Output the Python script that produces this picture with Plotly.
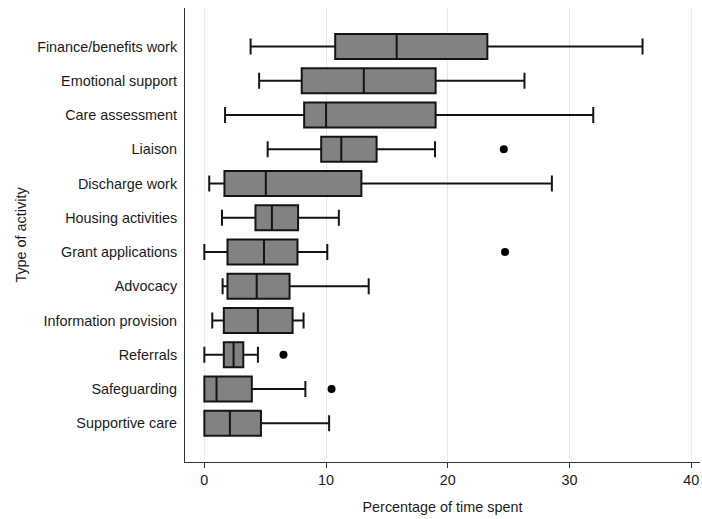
import plotly.graph_objects as go

categories = ["Finance/benefits work", "Emotional support", "Care assessment", "Liaison",
              "Discharge work", "Housing activities", "Grant applications", "Advocacy",
              "Information provision", "Referrals", "Safeguarding", "Supportive care"]
lower = [3.8, 4.5, 1.7, 5.2, 0.4, 1.45, 0.0, 1.5, 0.65, 0.0, 0.0, 0.0]
q1 = [10.75, 8.0, 8.2, 9.6, 1.65, 4.2, 1.9, 1.9, 1.6, 1.6, 0.0, 0.0]
median = [15.8, 13.1, 10.0, 11.25, 5.05, 5.55, 4.9, 4.3, 4.4, 2.4, 1.0, 2.1]
q3 = [23.25, 19.0, 19.0, 14.15, 12.9, 7.7, 7.65, 7.0, 7.25, 3.2, 3.9, 4.65]
upper = [36.0, 26.3, 31.95, 18.95, 28.55, 11.05, 10.1, 13.5, 8.15, 4.4, 8.3, 10.25]
outlier_cat = ["Liaison", "Grant applications", "Referrals", "Safeguarding"]
outlier_val = [24.6, 24.7, 6.5, 10.45]
x_ticks = [0, 10, 20, 30, 40]

fig = go.Figure()
fig.add_trace(go.Box(
    y=categories, q1=q1, median=median, q3=q3,
    lowerfence=lower, upperfence=upper,
    orientation="h", fillcolor="#828282",
    line=dict(color="#141414", width=2),
    whiskerwidth=0.64, width=0.73, boxpoints=False,
    showlegend=False, hoverinfo="skip",
))
fig.add_trace(go.Scatter(
    x=outlier_val, y=outlier_cat, mode="markers",
    marker=dict(color="black", size=8), showlegend=False,
))

font = "Liberation Sans, Arial, sans-serif"
fig.update_layout(
    width=702, height=519,
    margin=dict(l=185, r=2, t=8, b=57),
    paper_bgcolor="white", plot_bgcolor="white",
    font=dict(family=font, size=14.4, color="#1a1a1a"),
)
fig.update_xaxes(
    range=[-1.59, 40.72], tickvals=x_ticks, ticktext=[str(v) for v in x_ticks],
    showgrid=True, gridcolor="#e0ecee", gridwidth=1, zeroline=False,
    showline=True, linecolor="#333333", linewidth=1,
    ticks="outside", ticklen=5, tickcolor="#333333",
    title=dict(text="Percentage of time spent", standoff=14, font=dict(size=14.4)),
    tickfont=dict(size=14.4), automargin=False,
)
fig.update_yaxes(
    type="category", categoryorder="array", categoryarray=categories,
    range=[11 + 1.13, -1.124],
    showgrid=False, zeroline=False,
    showline=True, linecolor="#333333", linewidth=1,
    ticks="", ticklabelstandoff=4,
    title=dict(text="Type of activity", standoff=7, font=dict(size=14.4)),
    tickfont=dict(size=14.4), automargin=False,
)
fig.write_html(
    "out.html",
    config={"displayModeBar": False},
    post_script="document.body.style.margin='0';document.body.style.padding='0';",
)
